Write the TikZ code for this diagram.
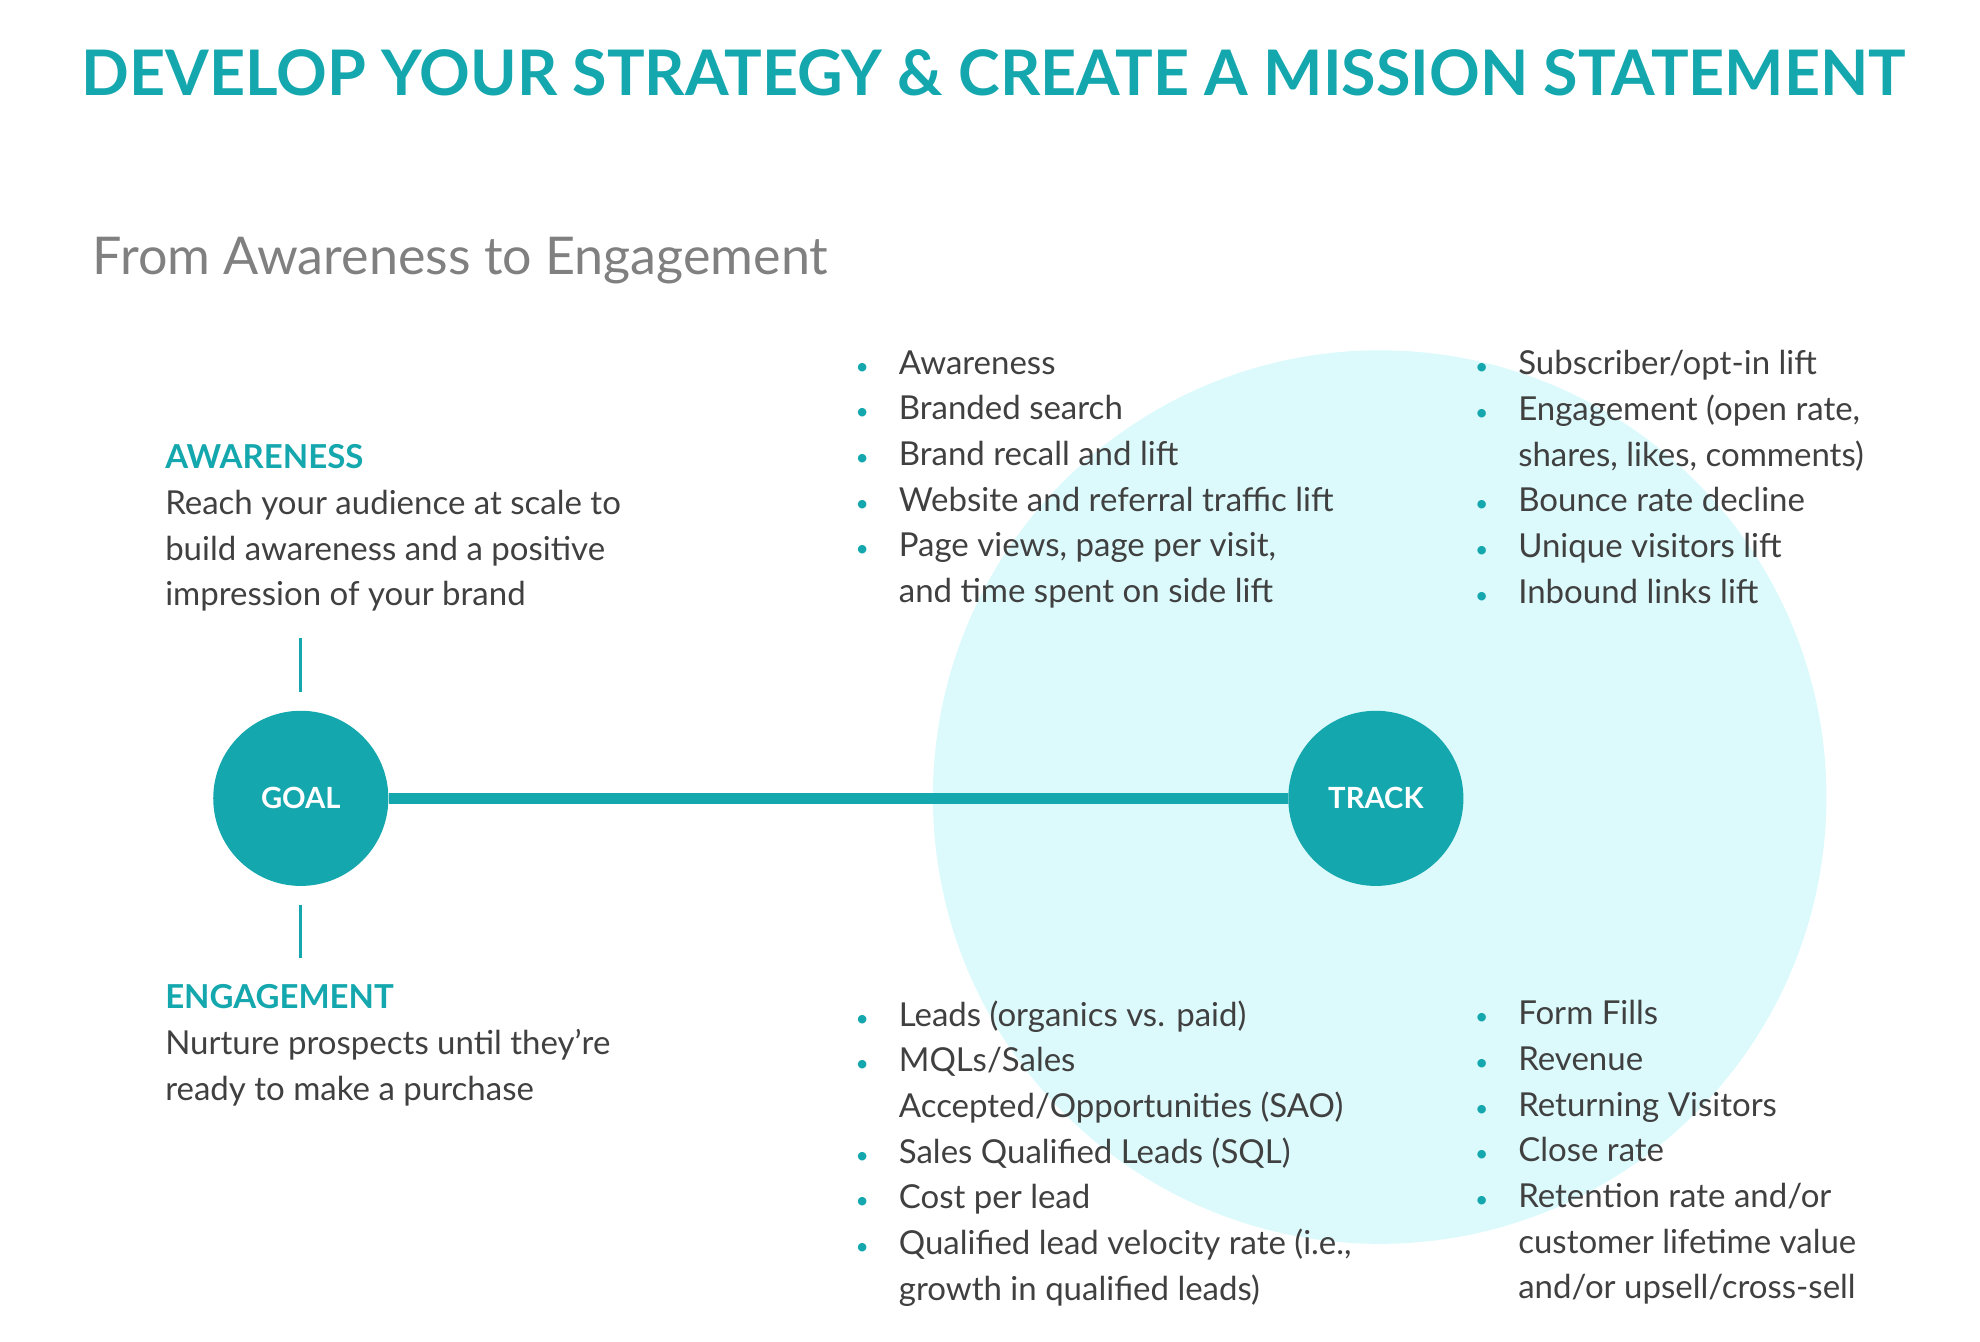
\documentclass[tikz,border=0pt]{standalone}
\usepackage{fontspec}
\setmainfont{Lato}
\usetikzlibrary{positioning}
\definecolor{teal}{HTML}{14A7AD}
\definecolor{pale}{HTML}{DCFAFC}
\definecolor{body}{HTML}{404040}
\newcommand{\bl}{\makebox[34pt][l]{\textcolor{teal}{\fontsize{18}{18}\selectfont•}}}
\newcommand{\ct}{\hspace*{34pt}}
\tikzset{
  txt/.style={anchor=north west, inner sep=0pt, align=left, text=body,
    font=\fontsize{26}{36}\selectfont},
  head/.style={anchor=north west, inner sep=0pt, text=teal,
    font=\fontsize{26}{36}\selectfont\bfseries},
  dot/.style={circle, fill=teal, minimum size=138pt, inner sep=0pt,
    text=white, font=\fontsize{23}{26}\selectfont\bfseries},
  tick/.style={draw=teal, line width=2.5pt}
}
\begin{document}
\begin{tikzpicture}[x=1pt,y=-1pt]
  \useasboundingbox (0,0) rectangle (1560,1057);
  \fill[pale] (1087,628) circle (352);

  \node[text=teal, font=\fontsize{49.5}{54}\selectfont\bfseries] (title) at (783,57) {DEVELOP YOUR STRATEGY \& CREATE A MISSION STATEMENT};
  \node[anchor=west, inner sep=0pt, text=black!50, font=\fontsize{41}{46}\selectfont] (sub) at (73,205) {From Awareness to Engagement};

  % goal and track
  \node[dot] (goal) at (237,629) {GOAL};
  \node[dot] (track) at (1084,629) {TRACK};
  \draw[teal, line width=9pt] (goal) -- (track);

  \coordinate (t1) at (237,503); \coordinate (t2) at (237,545);
  \coordinate (t3) at (237,713); \coordinate (t4) at (237,755);
  \draw[tick] (t1) -- (t2);
  \draw[tick] (t3) -- (t4);

  % left texts
  \node[head] (aw) at (130,350) {AWARENESS};
  \node[txt] (awt) at (130,386) {Reach your audience at scale to\\build awareness and a positive\\impression of your brand};
  \node[head] (en) at (130,775) {ENGAGEMENT};
  \node[txt] (ent) at (130,811) {Nurture prospects until they’re\\ready to make a purchase};

  % lists
  \node[txt] (l1) at (674,276) {\bl Awareness\\\bl Branded search\\\bl Brand recall and lift\\\bl Website and referral traffic lift\\\bl Page views, page per visit,\\\ct and time spent on side lift};
  \node[txt] (l2) at (1162,276) {\bl Subscriber/opt-in lift\\\bl Engagement (open rate,\\\ct shares, likes, comments)\\\bl Bounce rate decline\\\bl Unique visitors lift\\\bl Inbound links lift};
  \node[txt] (l3) at (674,788) {\bl Leads (organics vs. paid)\\\bl MQLs/Sales\\\ct Accepted/Opportunities (SAO)\\\bl Sales Qualified Leads (SQL)\\\bl Cost per lead\\\bl Qualified lead velocity rate (i.e.,\\\ct growth in qualified leads)};
  \node[txt] (l4) at (1162,788) {\bl Form Fills\\\bl Revenue\\\bl Returning Visitors\\\bl Close rate\\\bl Retention rate and/or\\\ct customer lifetime value\\\ct and/or upsell/cross-sell};
\end{tikzpicture}
\end{document}
